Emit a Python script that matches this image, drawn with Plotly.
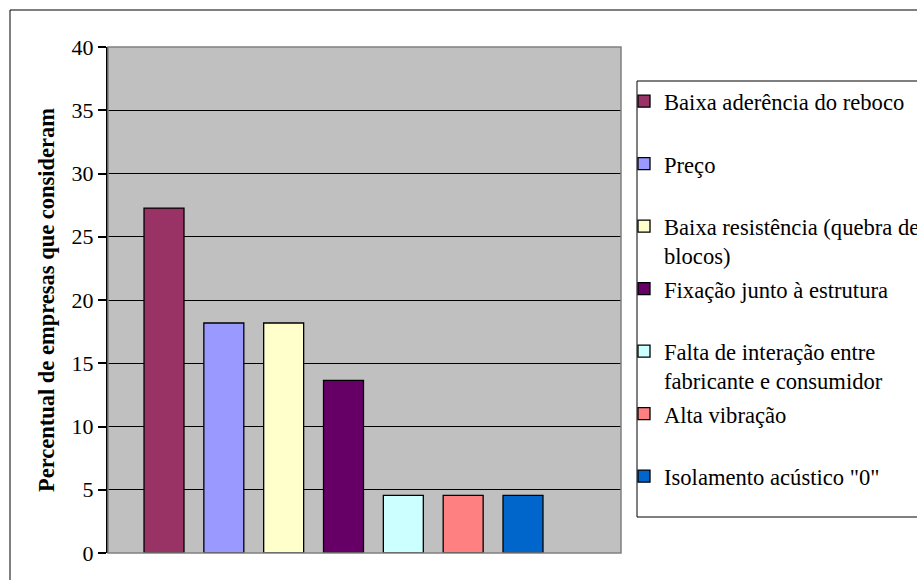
import plotly.graph_objects as go

categories = ["Baixa aderência do reboco", "Preço", "Baixa resistência (quebra de<br>blocos)",
              "Fixação junto à estrutura", "Falta de interação entre<br>fabricante e consumidor",
              "Alta vibração", "Isolamento acústico \"0\""]
values = [27.27, 18.18, 18.18, 13.64, 4.55, 4.55, 4.55]
colors = ["#993366", "#9999FF", "#FFFFCC", "#660066", "#CCFFFF", "#FF8080", "#0066CC"]
yticks = [0, 5, 10, 15, 20, 25, 30, 35, 40]

FONT = "Liberation Serif, Times New Roman, serif"
W, H = 917, 580
L, R, T, B = 108, 621, 47, 553

def px_x(p):
    return (p - L) / (R - L)

def px_y(p):
    return (B - p) / (B - T)

# legend entry marker centres (px) -- evenly spaced as in the reference
leg_first, leg_pitch = 99, 62.5
LEG_OFF = 19  # distance from legend top to first marker centre

fig = go.Figure()
legends = {}
for i, (name, v, c) in enumerate(zip(categories, values, colors)):
    key = "legend" if i == 0 else f"legend{i + 1}"
    fig.add_trace(go.Bar(x=[i], y=[v], name=name,
                         marker=dict(color=c, line=dict(color="black", width=1.3)),
                         width=0.668, legend=key))
    legends[key] = dict(x=px_x(624), xanchor="left",
                        y=px_y(leg_first + i * leg_pitch - LEG_OFF), yanchor="top",
                        bgcolor="rgba(0,0,0,0)", borderwidth=0, valign="top",
                        font=dict(family=FONT, size=22.6, color="black"))

fig.update_layout(
    width=W, height=H,
    margin=dict(l=L, r=W - R, t=T, b=H - B, pad=0, autoexpand=False),
    paper_bgcolor="white", plot_bgcolor="#C0C0C0",
    barmode="overlay",
    font=dict(family=FONT, size=22, color="black"),
    showlegend=True,
    xaxis=dict(range=[-0.936, 7.638], showticklabels=False, ticks="", showgrid=False,
               zeroline=False, showline=False, fixedrange=True),
    yaxis=dict(range=[0, 40], tickvals=yticks, ticks="outside", ticklen=8, tickwidth=2,
               tickcolor="black", showline=True, linecolor="black", linewidth=2,
               showgrid=True, gridcolor="black", gridwidth=1, zeroline=False,
               tickfont=dict(family=FONT, size=22, color="black"),
               title=dict(text="<b>Percentual de empresas que consideram</b>",
                          font=dict(family=FONT, size=22.5, color="black"), standoff=11)),
    shapes=[
        dict(type="rect", xref="paper", yref="paper", x0=0, x1=1, y0=0, y1=1,
             line=dict(color="#808080", width=1.5), fillcolor="rgba(0,0,0,0)", layer="above"),
        dict(type="rect", xref="paper", yref="paper",
             x0=px_x(10), x1=px_x(W + 20), y0=px_y(H + 20), y1=px_y(10),
             line=dict(color="black", width=1), fillcolor="rgba(0,0,0,0)", layer="below"),
        dict(type="rect", xref="paper", yref="paper",
             x0=px_x(637), x1=px_x(W + 20), y0=px_y(517), y1=px_y(81),
             line=dict(color="black", width=1), fillcolor="white", layer="below"),
    ],
    **legends,
)
fig.write_html("out.html")
